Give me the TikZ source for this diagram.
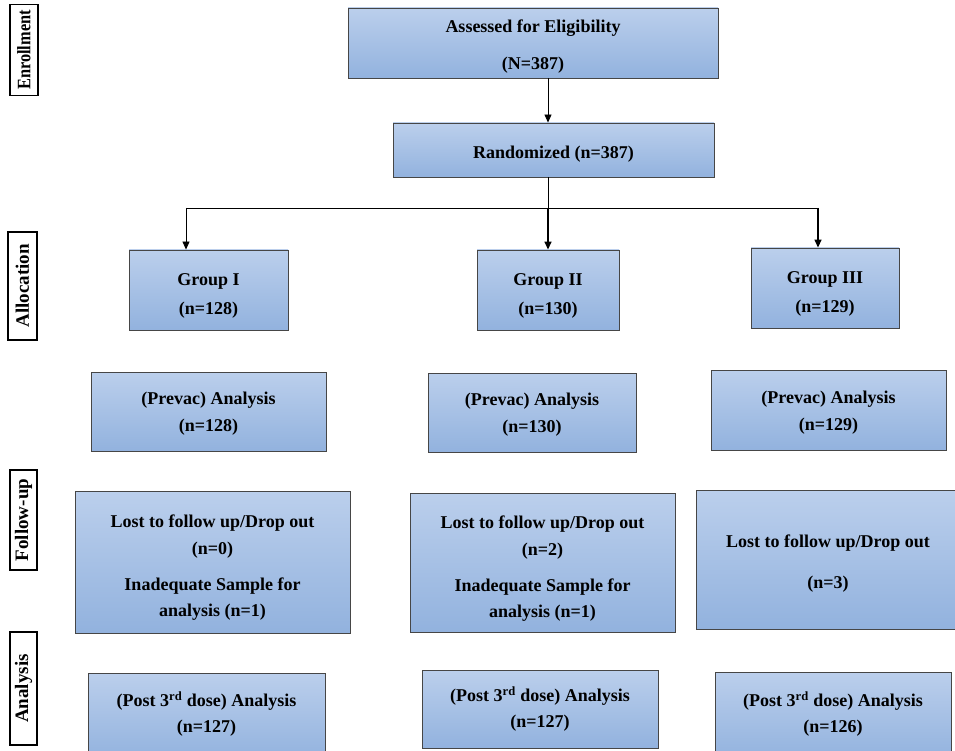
\documentclass[tikz,border=0pt]{standalone}
\usepackage{fontspec}
\usepackage{graphicx}
\setmainfont{Liberation Serif}
\usetikzlibrary{arrows.meta}
\definecolor{boxtop}{RGB}{187,207,236}
\definecolor{boxbot}{RGB}{146,178,222}
\definecolor{boxline}{RGB}{70,70,70}
\newcommand{\lift}[1]{\rule{0pt}{#1}}
\newcommand{\squeeze}[2]{\scalebox{#1}[1]{#2}}
\begin{document}
\begin{tikzpicture}[x=1pt,y=-1pt,
  box/.style={draw=boxline, line width=0.9pt, top color=boxtop, bottom color=boxbot,
    align=center, inner sep=0pt, font=\bfseries\fontsize{18}{21}\selectfont},
  side/.style={draw=black, line width=1.3pt, fill=white, rotate=90, inner sep=0pt,
    font=\bfseries\fontsize{19}{22}\selectfont},
  lbl/.style={align=center, inner sep=0pt, font=\bfseries\fontsize{18}{21}\selectfont},
  arr/.style={-{Triangle[length=8pt,width=7pt]}, line width=0.8pt},
  arrb/.style={-{Triangle[length=8pt,width=7pt]}, line width=1.5pt},
  ln/.style={line width=0.8pt}]
\useasboundingbox (0,0) rectangle (955,751);
\clip (0,0) rectangle (955,751);

% side labels (rotated: minimum width = vertical extent)
\node[side, minimum width=91pt, minimum height=28pt] (s1) at (24,50) {\squeeze{0.86}{Enrollment}};
\node[side, minimum width=108pt, minimum height=29pt] (s2) at (22.5,286) {Allocation};
\node[side, minimum width=100pt, minimum height=27pt] (s3) at (23.5,520) {Follow-up};
\node[side, minimum width=113pt, minimum height=27pt] (s4) at (23.5,688.5) {Analysis};

% top boxes
\node[box, minimum width=370pt, minimum height=70pt] (elig) at (533,43)
  {\lift{19pt}Assessed for Eligibility\\[16pt](N=387)};
\node[box, minimum width=321pt, minimum height=54pt] (rand) at (553.5,150)
  {\lift{21pt}Randomized (n=387)};

% groups
\node[box, minimum width=159pt, minimum height=80pt] (g1) at (208.5,290)
  {\lift{23pt}Group I\\[8pt](n=128)};
\node[box, minimum width=142pt, minimum height=80pt] (g2) at (548,290)
  {\lift{23pt}Group II\\[8pt](n=130)};
\node[box, minimum width=148pt, minimum height=80pt] (g3) at (825,288)
  {\lift{23pt}Group III\\[8pt](n=129)};

% prevac
\node[box, minimum width=235pt, minimum height=79pt] (p1) at (208.5,411.5)
  {\lift{17pt}(Prevac) Analysis\\[6pt](n=128)};
\node[box, minimum width=208pt, minimum height=79pt] (p2) at (532,412.5)
  {\lift{17pt}(Prevac) Analysis\\[6pt](n=130)};
\node[box, minimum width=235pt, minimum height=80pt] (p3) at (828.5,410)
  {\lift{17pt}(Prevac) Analysis\\[6pt](n=129)};

% lost
\node[box, minimum width=275pt, minimum height=142pt] (l1) at (212.5,562)
  {\lift{24pt}Lost to follow up/Drop out\\[6pt](n=0)\\[15pt]Inadequate Sample for\\[5pt]analysis (n=1)};
\node[box, minimum width=265pt, minimum height=139pt] (l2) at (542.5,562.5)
  {\lift{24pt}Lost to follow up/Drop out\\[6pt](n=2)\\[15pt]Inadequate Sample for\\[5pt]analysis (n=1)};
\node[box, minimum width=264pt, minimum height=139pt] (l3) at (828,559.5)
  {\lift{21pt}Lost to follow up/Drop out\\[20pt](n=3)};

% post
\node[box, minimum width=237pt, minimum height=87pt] (q1) at (206.5,716.5) {};
\node[box, minimum width=236pt, minimum height=78pt] (q2) at (540,709)
  {\lift{15pt}(Post 3\textsuperscript{rd} dose) Analysis\\[5pt](n=127)};
\node[box, minimum width=236pt, minimum height=88pt] (q3) at (833,716) {};
\node[lbl] (q1t) at (206.5,714)
  {(Post 3\textsuperscript{rd} dose) Analysis\\[5pt](n=127)};
\node[lbl] (q3t) at (833,714)
  {(Post 3\textsuperscript{rd} dose) Analysis\\[5pt](n=126)};

% connectors
\coordinate (split) at (548,208);
\coordinate (lft) at (186,208);
\coordinate (rgt) at (818,208);
\draw[arr] (elig.south -| split) -- (rand.north -| split);
\draw[ln] (rand.south -| split) -- (split);
\draw[ln] (lft) -- (rgt);
\draw[arr] (lft) -- (g1.north -| lft);
\draw[arrb] (split) -- (g2.north -| split);
\draw[arrb] (rgt) -- (g3.north -| rgt);
\end{tikzpicture}
\end{document}
